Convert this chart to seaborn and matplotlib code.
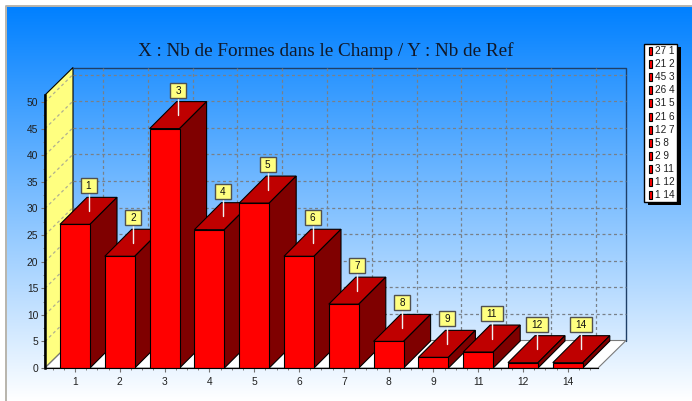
import numpy as np
import matplotlib
matplotlib.use('Agg')
import matplotlib.pyplot as plt
from matplotlib.colors import LinearSegmentedColormap
from matplotlib.patches import Polygon, Rectangle
from matplotlib.transforms import IdentityTransform
import seaborn as sns

# --- Data ---
CATEGORIES = ['1', '2', '3', '4', '5', '6', '7', '8', '9', '11', '12', '14']
NB_REF = [27, 21, 45, 26, 31, 21, 12, 5, 2, 3, 1, 1]
Y_TICKS = [0, 5, 10, 15, 20, 25, 30, 35, 40, 45, 50]
TITLE = 'X : Nb de Formes dans le Champ / Y : Nb de Ref'

# --- Pixel layout of the picture ---
W, H = 692, 401
LEFT, RIGHT, BOTTOM, TOP = 45, 598, 368, 95
PX_PER_CAT = 44.8
PX_PER_VAL = 5.32
WALL_DX = 28 / PX_PER_CAT
WALL_DY = 27.5 / PX_PER_VAL
BAR_DX = 27 / PX_PER_CAT
BAR_DY = 27 / PX_PER_VAL
BAR_W = 30 / PX_PER_CAT

sns.set_theme(style='white')
plt.rcParams['font.family'] = ['Liberation Sans', 'DejaVu Sans']

fig = plt.figure(figsize=(W / 100, H / 100), dpi=100, facecolor='white')

# --- Background gradient, frame, title and legend use pixel coordinates ---
bg = fig.add_axes([0, 0, 1, 1], zorder=0)
bg.axis('off')
cmap = LinearSegmentedColormap.from_list('sky', ['#0080FF', '#FFFFFF'])
bg.imshow(np.linspace(0, 1, 256).reshape(-1, 1), cmap=cmap, aspect='auto',
          extent=(6.5, W, H, 6.5))
bg.set_xlim(0, W)
bg.set_ylim(H, 0)
bg.plot([5.5, 5.5, W], [H, 5.5, 5.5], color='#B8B4AC', lw=1.4, solid_capstyle='butt')
bg.text(325.5, 51.5, TITLE, family=['Liberation Serif'], fontsize=13.8, color='#101828',
        ha='center', va='center')

# Legend box with its hard shadow
row_h = 13.1
bg.add_patch(Rectangle((647.5, 47), 33, 158, fc='black', ec='none'))
bg.add_patch(Rectangle((644, 44), 33, 158, fc='white', ec='black', lw=1))
for i, (cat, val) in enumerate(zip(CATEGORIES, NB_REF)):
    yc = 51 + i * row_h
    bg.add_patch(Rectangle((648.5, yc - 4), 3, 8, fc='#FF0000', ec='black', lw=0.8))
    bg.text(655, yc, f'{val} {cat}', fontsize=7.2, color='#202020', ha='left', va='center')

# --- Main axes: the front plane of the 3D box ---
ax = fig.add_axes([LEFT / W, (H - BOTTOM) / H, (RIGHT - LEFT) / W, (BOTTOM - TOP) / H], zorder=1)
ax.patch.set_alpha(0)

sns.barplot(x=CATEGORIES, y=NB_REF, order=CATEGORIES, color='#FF0000', saturation=1,
            width=BAR_W, edgecolor='black', linewidth=0.8, ax=ax)

x0 = -(75 - LEFT) / PX_PER_CAT
x1 = x0 + (RIGHT - LEFT) / PX_PER_CAT
y1 = (BOTTOM - TOP) / PX_PER_VAL
ax.set_xlim(x0, x1)
ax.set_ylim(0, y1)

# Left wall and back wall outline
ax.add_patch(Polygon([(x0, 0), (x0, y1), (x0 + WALL_DX, y1 + WALL_DY), (x0 + WALL_DX, WALL_DY)],
                     fc='#FFFF80', ec='black', lw=0.8, zorder=1.1, clip_on=False))
ax.plot([x0 + WALL_DX, x1 + WALL_DX, x1 + WALL_DX],
        [y1 + WALL_DY, y1 + WALL_DY, WALL_DY],
        color='#1F3F66', lw=1, zorder=1.2, clip_on=False)

# Dashed grid on back and left walls
grid_kw = dict(color='#788088', lw=0.9, ls=(0, (2.4, 2.2)), zorder=1.5, clip_on=False)
for v in Y_TICKS[1:]:
    ax.plot([x0 + WALL_DX, x1 + WALL_DX], [v + WALL_DY, v + WALL_DY], **grid_kw)
    ax.plot([x0, x0 + WALL_DX], [v, v + WALL_DY], **{**grid_kw, 'color': '#B0B090'})
for i in range(len(CATEGORIES)):
    ax.plot([i + WALL_DX, i + WALL_DX], [WALL_DY, y1 + WALL_DY], **grid_kw)

# Floor sits in front of the wall foot
ax.add_patch(Polygon([(x0, 0), (x0 + WALL_DX, WALL_DY), (x1 + WALL_DX, WALL_DY), (x1, 0)],
                     fc='white', ec='#7A7A7A', lw=0.8, zorder=2, clip_on=False))

# Extrude the bars, painted left to right
ident = IdentityTransform()
for i, bar in enumerate(ax.patches[:len(NB_REF)]):
    xl, w, h = bar.get_x(), bar.get_width(), bar.get_height()
    z = 3 + i
    bar.set_zorder(z + 0.2)
    ax.add_patch(Polygon([(xl, h), (xl + BAR_DX, h + BAR_DY), (xl + w + BAR_DX, h + BAR_DY), (xl + w, h)],
                         fc='#BF0000', ec='black', lw=0.8, zorder=z, clip_on=False))
    ax.add_patch(Polygon([(xl + w, 0), (xl + w, h), (xl + w + BAR_DX, h + BAR_DY), (xl + w + BAR_DX, BAR_DY)],
                         fc='#7F0000', ec='black', lw=0.8, zorder=z + 0.1, clip_on=False))

    # Callout rising from the middle of the top face, sized in pixels
    px, py = ax.transData.transform((xl + w / 2 + BAR_DX / 2, h + BAR_DY / 2))
    box_w = 16 if len(CATEGORIES[i]) == 1 else 22
    ax.plot([px, px], [py, py + 18], color='#F0F0F0', lw=1, zorder=40,
            transform=ident, scalex=False, scaley=False, clip_on=False)
    ax.add_patch(Rectangle((px - box_w / 2, py + 17.5), box_w, 15, fc='#FFFF80', ec='#505050',
                           lw=1, zorder=41, transform=ident, clip_on=False))
    ax.text(px, py + 24.5, CATEGORIES[i], fontsize=7.2, color='#101010', ha='center', va='center',
            zorder=42, transform=ident, clip_on=False)

# --- Axes decoration ---
for side in ['top', 'right']:
    ax.spines[side].set_visible(False)
ax.spines['left'].set_linewidth(1.8)
ax.spines['left'].set_color('black')
ax.spines['bottom'].set_linewidth(0.8)
ax.spines['bottom'].set_color('black')
ax.spines['left'].set_zorder(2.5)
ax.spines['bottom'].set_zorder(30)

ax.set_xticks(range(len(CATEGORIES)), CATEGORIES)
ax.set_xticks(np.arange(x0 + 0.17, x1, 0.25), minor=True)
ax.set_yticks(Y_TICKS, [str(v) for v in Y_TICKS])
ax.set_yticks(np.arange(0, 50.1, 2.5), minor=True)
ax.tick_params(axis='both', which='major', labelsize=7.4, labelcolor='#202020',
               color='#707070', length=3.2, width=0.8, bottom=True, left=True)
ax.tick_params(axis='both', which='minor', color='#808080', length=1.6, width=0.7,
               bottom=True, left=True)
ax.tick_params(axis='x', which='major', pad=3)
ax.tick_params(axis='y', which='major', pad=1.5)
ax.set_xlabel('')
ax.set_ylabel('')

fig.savefig('out.png', dpi=100, facecolor='white')
